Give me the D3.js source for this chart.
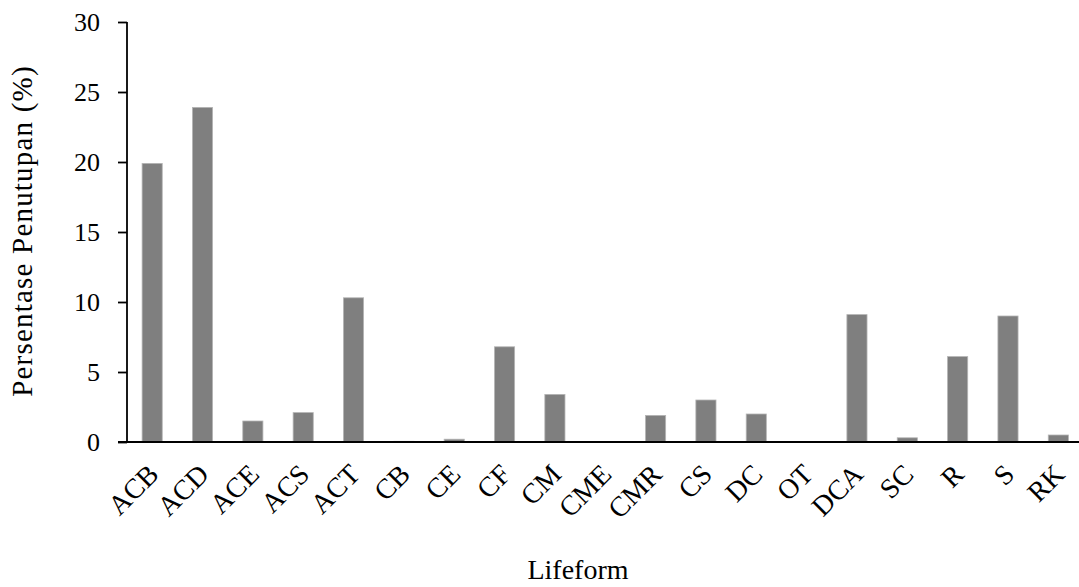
<!DOCTYPE html>
<html><head><meta charset="utf-8">
<script src="https://cdn.jsdelivr.net/npm/d3@7"></script>
<style>body{margin:0;background:#fff}svg{display:block}</style>
</head><body>
<svg id="c" width="1079" height="587"></svg>
<script>
const categories = ["ACB","ACD","ACE","ACS","ACT","CB","CE","CF","CM","CME","CMR","CS","DC","OT","DCA","SC","R","S","RK"];
const values = [19.9,23.9,1.5,2.1,10.3,0.05,0.2,6.8,3.4,0,1.9,3.0,2.0,0,9.1,0.3,6.1,9.0,0.5];
const yTicks = [0,5,10,15,20,25,30];
const yTitle = "Persentase Penutupan (%)";
const xTitle = "Lifeform";

const svg = d3.select("#c");
const font = "'Liberation Serif','Times New Roman',serif";
const x = d3.scaleBand().domain(categories).range([127, 1083.5]).paddingInner(0.6).paddingOuter(0.3);
const y = d3.scaleLinear().domain([0,30]).range([442, 22]);

svg.append("g").selectAll("rect").data(values).join("rect")
  .attr("x",(d,i)=>x(categories[i]))
  .attr("width",x.bandwidth())
  .attr("y",d=>y(d))
  .attr("height",d=>y(0)-y(d))
  .attr("fill","#7f7f7f")
  .attr("stroke","#b5b5b5").attr("stroke-width",0.8);

const ya = svg.append("g").attr("transform","translate(127,0)")
  .call(d3.axisLeft(y).tickValues(yTicks).tickSize(9).tickPadding(18).tickFormat(d3.format("d")));
ya.select(".domain").attr("stroke","#000").attr("stroke-width",1.8).attr("d","M0,22V442");
ya.selectAll(".tick line").attr("stroke","#000").attr("stroke-width",1.8);
ya.selectAll("text").attr("font-family",font).attr("font-size",26).attr("fill","#000");

svg.append("line").attr("x1",118).attr("x2",1079).attr("y1",y(0)).attr("y2",y(0))
  .attr("stroke","#000").attr("stroke-width",1.8);

svg.append("g").selectAll("text").data(categories).join("text")
  .attr("transform",d=>`translate(${x(d)+x.bandwidth()/2+1},${469}) rotate(-45)`)
  .attr("text-anchor","end").attr("dy","0.35em")
  .attr("font-family",font).attr("font-size",28).attr("fill","#000")
  .text(d=>d);

svg.append("text").attr("transform","translate(32,231) rotate(-90)")
  .attr("text-anchor","middle").attr("font-family",font).attr("font-size",29)
  .attr("letter-spacing",1.2).text(yTitle);
svg.append("text").attr("x",578).attr("y",579)
  .attr("text-anchor","middle").attr("font-family",font).attr("font-size",28).text(xTitle);
</script>
</body></html>
